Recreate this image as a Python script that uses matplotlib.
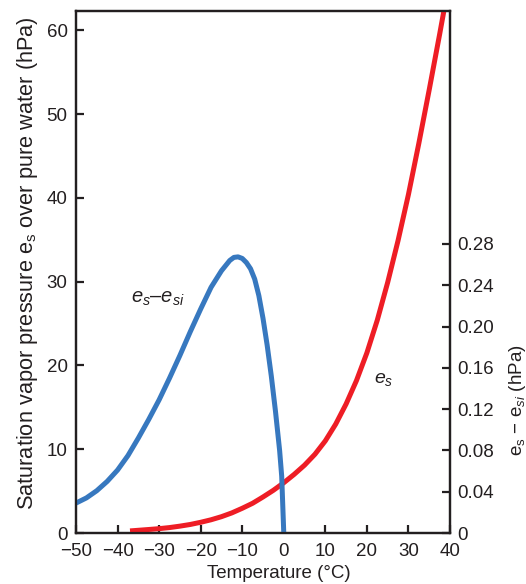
import matplotlib
matplotlib.use("Agg")
import matplotlib.pyplot as plt

plt.rcParams['font.family'] = ['Liberation Sans', 'DejaVu Sans']
plt.rcParams['mathtext.fontset'] = 'custom'
plt.rcParams['mathtext.rm'] = 'Liberation Sans'
plt.rcParams['mathtext.it'] = 'Liberation Sans:italic'
plt.rcParams['mathtext.sf'] = 'Liberation Sans'

# Saturation vapour pressure over water (left axis, hPa)
temp_es = [-37, -32.5, -30, -27.5, -25, -22.5, -20, -17.5, -15, -12.5, -10, -7.5, -5,
           -2.5, 0, 2.5, 5, 7.5, 10, 12.5, 15, 17.5, 20, 22.5, 25, 27.5, 30, 32.5,
           35, 37.5, 38.6]
es_vals = [0.25, 0.42, 0.52, 0.65, 0.82, 1.02, 1.28, 1.58, 1.95, 2.4, 2.95, 3.55, 4.3,
           5.1, 6.0, 7.0, 8.1, 9.4, 11.0, 13.0, 15.4, 18.2, 21.5, 25.4, 29.9, 34.9,
           40.4, 46.5, 52.9, 59.5, 62.5]

# Difference es - esi (right axis, hPa)
temp_diff = [-50, -47.5, -45, -42.5, -40, -37.5, -35, -32.5, -30, -27.5, -25, -22.5,
             -20, -17.5, -15, -14, -13, -12, -11, -10, -9, -8, -7, -6, -5, -4, -3,
             -2, -1, -0.5, 0]
diff_vals = [0.029, 0.034, 0.041, 0.050, 0.061, 0.075, 0.092, 0.110, 0.129, 0.150,
             0.172, 0.195, 0.217, 0.238, 0.254, 0.259, 0.264, 0.267, 0.2675, 0.266,
             0.262, 0.256, 0.246, 0.230, 0.208, 0.182, 0.152, 0.118, 0.080, 0.055, 0.0]

x_ticks = [-50, -40, -30, -20, -10, 0, 10, 20, 30, 40]
left_ticks = [0, 10, 20, 30, 40, 50, 60]
right_ticks = [0, 0.04, 0.08, 0.12, 0.16, 0.20, 0.24, 0.28]
right_labels = ['0', '0.04', '0.08', '0.12', '0.16', '0.20', '0.24', '0.28']

RED = '#EE1D25'
BLUE = '#3778BF'
INK = '#231F20'

fig = plt.figure(figsize=(5.26, 5.84), dpi=100)
ax = fig.add_axes([0.1445, 0.0873, 0.711, 0.8939])
ax2 = ax.twinx()

ax.plot(temp_es, es_vals, color=RED, lw=3.6, solid_capstyle='butt', zorder=3)
ax2.plot(temp_diff, diff_vals, color=BLUE, lw=3.6, solid_capstyle='butt', zorder=2)

ax.set_xlim(-50, 40)
ax.set_ylim(0, 62.3)
ax2.set_ylim(0, 0.5057)

ax.set_xticks(x_ticks)
ax.set_yticks(left_ticks)
ax2.set_yticks(right_ticks)
ax2.set_yticklabels(right_labels)

for a in (ax, ax2):
    for s in a.spines.values():
        s.set_linewidth(1.6)
        s.set_color(INK)
    a.tick_params(direction='in', length=6, width=1.6, labelsize=13.5,
                  colors=INK, pad=4)
ax.tick_params(axis='x', pad=7)
ax.tick_params(axis='y', pad=6)
ax2.tick_params(axis='y', pad=5)

fig.text(279 / 526, 1 - 573 / 584, 'Temperature (°C)',
         ha='center', va='center', fontsize=13.5, color=INK)
fig.text(28 / 526, 1 - 263 / 584,
         r'Saturation vapor pressure $\mathrm{e}_\mathrm{s}$ over pure water (hPa)',
         rotation=90, ha='center', va='center', fontsize=15.7, color=INK)
fig.text(517 / 526, 1 - 400 / 584,
         r'$\mathrm{e}_\mathrm{s}$ $-$ $\mathrm{e}_{si}$ (hPa)',
         rotation=90, ha='center', va='center', fontsize=13.5, color=INK)

ax.text(-30.4, 28.0, r'$e_s$–$e_{si}$', fontsize=14.5, color=INK, ha='center', va='center')
ax.text(24.1, 18.3, r'$e_s$', fontsize=14, color=INK, ha='center', va='center')

fig.savefig('out.png', dpi=100)
